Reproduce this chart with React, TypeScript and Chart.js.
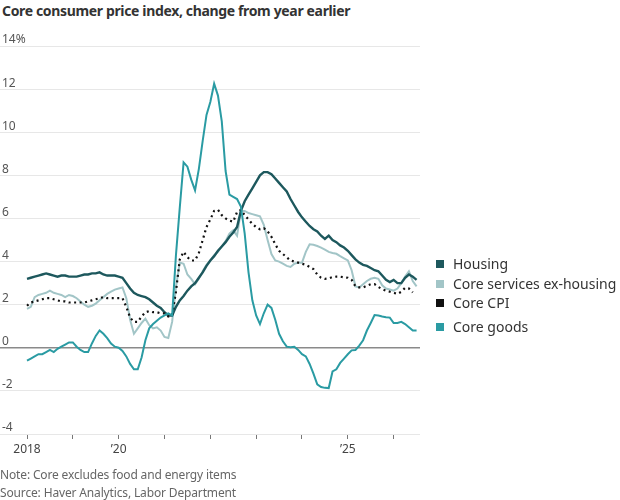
import React, { useEffect, useRef } from "react";
import { Chart, registerables } from "chart.js";

Chart.register(...registerables);

// Monthly categories, Jan 2018 onward (index = months since Jan 2018)
const months: string[] = [];
for (let y = 2018; y <= 2026; y++) {
  for (let m = 1; m <= 12; m++) months.push(`${y}-${String(m).padStart(2, "0")}`);
}
months.length = 103;

const seriesNames = ["Housing", "Core services ex-housing", "Core CPI", "Core goods"];

const housing = [
  3.2, 3.25, 3.3, 3.35, 3.4, 3.45, 3.4, 3.35, 3.3, 3.35, 3.35, 3.3,
  3.3, 3.3, 3.35, 3.4, 3.4, 3.45, 3.45, 3.5, 3.4, 3.35, 3.35, 3.35,
  3.3, 3.25, 3.0, 2.75, 2.55, 2.45, 2.4, 2.35, 2.25, 2.1, 1.95, 1.85,
  1.65, 1.5, 1.5, 1.9, 2.2, 2.4, 2.65, 2.85, 3.0, 3.25, 3.5, 3.8,
  4.05, 4.25, 4.5, 4.7, 4.9, 5.15, 5.35, 5.6, 6.35, 6.8, 7.1, 7.4,
  7.7, 8.0, 8.15, 8.15, 8.05, 7.85, 7.65, 7.45, 7.25, 6.9, 6.6, 6.3,
  6.05, 5.85, 5.65, 5.5, 5.4, 5.2, 5.05, 5.2, 5.0, 4.9, 4.75, 4.65,
  4.5, 4.3, 4.1, 3.95, 3.85, 3.8, 3.7, 3.6, 3.55, 3.35, 3.15, 3.05,
  3.15, 3.0, 3.0, 3.25, 3.4, 3.3, 3.15,
];

const servicesExHousing = [
  1.8, 1.9, 2.35, 2.45, 2.5, 2.55, 2.65, 2.55, 2.5, 2.45, 2.35, 2.45,
  2.4, 2.3, 2.15, 2.0, 1.9, 1.95, 2.05, 2.2, 2.35, 2.5, 2.6, 2.7,
  2.75, 2.8, 2.3, 1.3, 0.65, 0.9, 1.15, 1.35, 1.05, 0.9, 0.95, 0.8,
  0.5, 0.45, 1.2, 2.8, 3.95, 3.9, 3.4, 3.2, 2.95, 3.2, 3.55, 3.85,
  4.05, 4.3, 4.45, 4.7, 4.95, 5.3, 5.45, 5.2, 6.35, 6.35, 6.25, 6.2,
  6.15, 6.1, 5.7, 5.0, 4.35, 4.05, 4.0, 3.9, 3.8, 3.75, 3.9, 3.95,
  3.95, 4.45, 4.8, 4.78, 4.72, 4.65, 4.55, 4.45, 4.4, 4.36, 4.25, 4.15,
  4.05, 3.6, 2.85, 2.8, 2.95, 3.1, 3.2, 3.25, 3.2, 2.9, 2.75, 2.7,
  2.65, 2.75, 3.0, 3.3, 3.55, 3.1, 2.85,
];

const coreCPI: (number | null)[] = [
  1.95, 2.1, 2.15, 2.2, 2.25, 2.3, 2.3, 2.25, 2.2, 2.15, 2.15, 2.1,
  2.1, 2.1, 2.1, 2.1, 2.15, 2.2, 2.25, 2.3, 2.35, 2.3, 2.3, 2.3,
  2.3, 2.3, 1.9, 1.4, 1.2, 1.2, 1.45, 1.65, 1.7, 1.65, 1.65, 1.6,
  1.6, 1.45, 1.5, 2.6, 4.1, 4.45, 4.2, 4.05, 4.05, 4.4, 5.0, 5.6,
  5.95, 6.35, 6.4, 6.15, 6.0, 5.9, 5.85, 6.3, 6.4, 6.15, 5.95, 5.75,
  5.6, 5.5, 5.55, 5.4, 5.15, 4.8, 4.5, 4.35, 4.2, 4.05, 4.0, 3.95,
  3.9, 3.85, 3.75, 3.65, 3.4, 3.25, 3.2, 3.22, 3.28, 3.3, 3.3, 3.27,
  3.25, 3.15, 2.85, 2.8, 2.8, 2.88, 2.95, 2.95, 2.82, 2.72, 2.65, 2.6,
  2.55, 2.5, 2.6, 2.78, 2.75, 2.57, null,
];

const coreGoods = [
  -0.6, -0.5, -0.4, -0.3, -0.3, -0.2, -0.1, -0.2, -0.05, 0.05, 0.15, 0.25,
  0.25, 0.05, -0.1, -0.2, -0.2, 0.2, 0.55, 0.8, 0.65, 0.45, 0.2, 0.05,
  0.0, -0.15, -0.4, -0.75, -1.0, -1.0, -0.45, 0.35, 0.9, 1.1, 1.25, 1.4,
  1.5, 1.6, 1.5, 4.3, 6.5, 8.6, 8.4, 7.8, 7.3, 8.3, 9.6, 10.8,
  11.4, 12.25, 11.7, 10.5, 8.2, 7.1, 7.0, 6.9, 6.55, 5.3, 3.5, 2.2,
  1.5, 1.1, 1.6, 2.0, 1.85, 1.3, 0.65, 0.3, 0.05, 0.02, 0.05, -0.1,
  -0.3, -0.4, -0.75, -1.2, -1.7, -1.82, -1.86, -1.87, -1.1, -1.0, -0.7, -0.5,
  -0.3, -0.12, -0.1, 0.1, 0.35, 0.8, 1.15, 1.52, 1.5, 1.45, 1.42, 1.4,
  1.15, 1.15, 1.2, 1.1, 0.95, 0.8, 0.8,
];

const yTickValues = [-4, -2, 0, 2, 4, 6, 8, 10, 12, 14];
const yearTicks = [0, 12, 24, 36, 48, 60, 72, 84, 96];
const yearTickLabels = ["2018", "", "\u201920", "", "", "", "", "\u201925", ""];

const noteText = "Note: Core excludes food and energy items";
const sourceText = "Source: Haver Analytics, Labor Department";
const titleText = "Core consumer price index, change from year earlier";

const lineColors = ["#1d585d", "#a2c5c7", "#111111", "#2a9ba3"];
const legendTops = [254, 274, 293, 317];

const FONT = "'Noto Sans', 'DejaVu Sans', sans-serif";

function toPoints(arr: (number | null)[]) {
  return arr.map((y, i) => ({ x: i, y }));
}

export default function App() {
  const canvasRef = useRef<HTMLCanvasElement | null>(null);

  useEffect(() => {
    const canvas = canvasRef.current;
    if (!canvas) return;
    Chart.defaults.font.family = FONT;
    const chart = new Chart(canvas, {
      type: "line",
      data: {
        labels: months,
        datasets: [
          {
            label: seriesNames[0],
            data: toPoints(housing),
            borderColor: lineColors[0],
            borderWidth: 2.4,
            order: 2,
          },
          {
            label: seriesNames[1],
            data: toPoints(servicesExHousing),
            borderColor: lineColors[1],
            borderWidth: 2,
            order: 3,
          },
          {
            label: seriesNames[2],
            data: toPoints(coreCPI),
            borderColor: lineColors[2],
            borderWidth: 2.2,
            borderDash: [2, 3.5],
            order: 1,
          },
          {
            label: seriesNames[3],
            data: toPoints(coreGoods),
            borderColor: lineColors[3],
            borderWidth: 2,
            order: 0,
          },
        ] as any,
      },
      options: {
        animation: false,
        responsive: false,
        maintainAspectRatio: false,
        layout: { padding: { left: 0, right: 200, top: 46, bottom: 36 } },
        elements: {
          point: { radius: 0 },
          line: { tension: 0, borderCapStyle: "butt" },
        },
        plugins: {
          legend: { display: false },
          tooltip: { enabled: false },
          title: { display: false },
        },
        scales: {
          x: {
            type: "linear",
            min: -7.07,
            max: 102.9,
            afterBuildTicks: (ax: any) => {
              ax.ticks = yearTicks.map((v) => ({ value: v }));
            },
            afterFit: (ax: any) => {
              ax.height = 30;
            },
            grid: {
              display: true,
              drawOnChartArea: false,
              drawTicks: true,
              tickLength: 5,
              color: "#777777",
              lineWidth: 1,
            },
            border: { display: false },
            ticks: {
              autoSkip: false,
              maxRotation: 0,
              padding: 3,
              color: "#444444",
              font: { size: 12, family: FONT },
              callback: (v: any) => {
                const i = yearTicks.indexOf(Number(v));
                return i >= 0 ? yearTickLabels[i] : "";
              },
            },
          },
          y: {
            min: -4,
            max: 14,
            afterBuildTicks: (ax: any) => {
              ax.ticks = yTickValues.map((v) => ({ value: v }));
            },
            afterFit: (ax: any) => {
              ax.width = 0;
            },
            grid: {
              drawTicks: false,
              color: (ctx: any) => (ctx.tick && ctx.tick.value === 0 ? "#8a8a8a" : "#e7e7e7"),
              lineWidth: (ctx: any) => (ctx.tick && ctx.tick.value === 0 ? 1.5 : 1),
            },
            border: { display: false },
            ticks: {
              mirror: true,
              padding: 2,
              labelOffset: -6,
              color: "#555555",
              font: { size: 12, family: FONT },
              callback: (v: any) => (Number(v) === 14 ? "14%" : String(v)),
            },
          },
        },
      },
    });
    return () => chart.destroy();
  }, []);

  return (
    <div
      style={{
        position: "absolute",
        left: 0,
        top: 0,
        width: 620,
        height: 500,
        background: "#fff",
        fontFamily: FONT,
        overflow: "hidden",
      }}
    >
      <div
        style={{
          position: "absolute",
          left: 2,
          top: 1,
          fontSize: 14,
          fontWeight: 700,
          letterSpacing: "-0.35px",
          color: "#333",
          lineHeight: "20px",
          whiteSpace: "nowrap",
        }}
      >
        {titleText}
      </div>
      <canvas
        ref={canvasRef}
        width={620}
        height={500}
        style={{ position: "absolute", left: 0, top: 0, width: 620, height: 500 }}
      />
      {seriesNames.map((name, i) => (
        <div
          key={name}
          style={{
            position: "absolute",
            left: 436,
            top: legendTops[i],
            height: 20,
            lineHeight: "20px",
            fontSize: 14,
            color: "#333",
            whiteSpace: "nowrap",
          }}
        >
          <span
            style={{
              display: "inline-block",
              width: 8,
              height: 8,
              background: lineColors[i],
              marginRight: 9,
              verticalAlign: "middle",
              position: "relative",
              top: -1,
            }}
          />
          {name}
        </div>
      ))}
      <div
        style={{
          position: "absolute",
          left: 0,
          top: 466,
          fontSize: 12,
          lineHeight: "18px",
          letterSpacing: "-0.15px",
          color: "#666",
          whiteSpace: "nowrap",
        }}
      >
        {noteText}
        <br />
        {sourceText}
      </div>
    </div>
  );
}
